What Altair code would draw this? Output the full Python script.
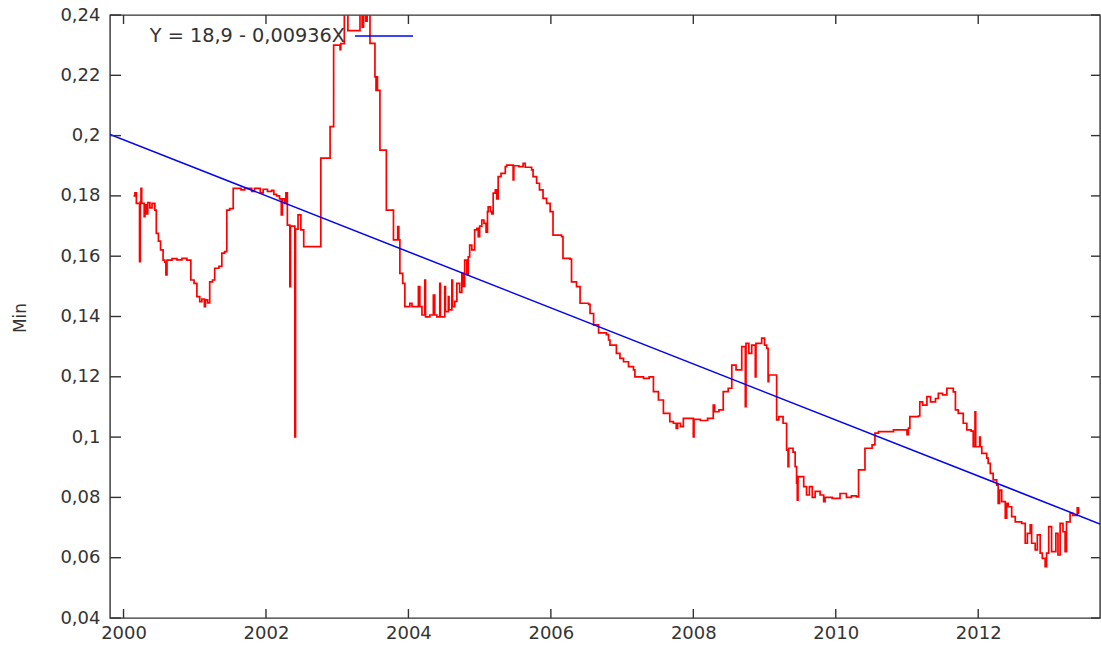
import altair as alt
import pandas as pd

# ---- data ----
years = [
    2000.14, 2000.16, 2000.18, 2000.225, 2000.235, 2000.245, 2000.255, 2000.29, 2000.30, 2000.32,
    2000.34, 2000.37, 2000.40, 2000.44, 2000.46, 2000.49, 2000.52, 2000.555, 2000.58, 2000.595,
    2000.61, 2000.68, 2000.75, 2000.82, 2000.89, 2000.945, 2000.99, 2001.03, 2001.07, 2001.10,
    2001.135, 2001.15, 2001.18, 2001.21, 2001.25, 2001.28, 2001.34, 2001.38, 2001.42, 2001.45,
    2001.49, 2001.54, 2001.65, 2001.70, 2001.80, 2001.84, 2001.92, 2001.96, 2002.02, 2002.08,
    2002.11, 2002.15, 2002.19, 2002.215, 2002.23, 2002.26, 2002.28, 2002.30, 2002.335, 2002.345,
    2002.405, 2002.415, 2002.45, 2002.49, 2002.53, 2002.77, 2002.90, 2002.95, 2003.04, 2003.05,
    2003.10, 2003.15, 2003.32, 2003.35, 2003.37, 2003.40, 2003.42, 2003.46, 2003.53, 2003.545,
    2003.555, 2003.565, 2003.60, 2003.69, 2003.79, 2003.85, 2003.865, 2003.88, 2003.92, 2003.95,
    2004.02, 2004.05, 2004.14, 2004.16, 2004.19, 2004.23, 2004.24, 2004.30, 2004.35, 2004.37,
    2004.40, 2004.44, 2004.45, 2004.51, 2004.52, 2004.56, 2004.57, 2004.61, 2004.62, 2004.65,
    2004.68, 2004.72, 2004.75, 2004.77, 2004.79, 2004.82, 2004.84, 2004.86, 2004.89, 2004.93,
    2004.96, 2004.98, 2005.00, 2005.03, 2005.06, 2005.09, 2005.11, 2005.12, 2005.15, 2005.17,
    2005.19, 2005.22, 2005.24, 2005.26, 2005.30, 2005.36, 2005.38, 2005.47, 2005.48, 2005.55,
    2005.61, 2005.64, 2005.73, 2005.75, 2005.80, 2005.84, 2005.89, 2005.94, 2005.99, 2006.03,
    2006.15, 2006.17, 2006.27, 2006.29, 2006.36, 2006.41, 2006.53, 2006.55, 2006.60, 2006.67,
    2006.78, 2006.81, 2006.83, 2006.92, 2006.97, 2007.02, 2007.09, 2007.16, 2007.18, 2007.30,
    2007.38, 2007.44, 2007.51, 2007.58, 2007.67, 2007.72, 2007.76, 2007.78, 2007.82, 2007.86,
    2008.00, 2008.01, 2008.10, 2008.20, 2008.28, 2008.30, 2008.36, 2008.42, 2008.49, 2008.54,
    2008.60, 2008.68, 2008.73, 2008.74, 2008.78, 2008.82, 2008.87, 2008.88, 2008.96, 2009.00,
    2009.03, 2009.05, 2009.06, 2009.17, 2009.20, 2009.26, 2009.31, 2009.33, 2009.34, 2009.40,
    2009.43, 2009.45, 2009.46, 2009.47, 2009.55, 2009.59, 2009.63, 2009.67, 2009.71, 2009.78,
    2009.83, 2009.85, 2009.95, 2010.06, 2010.15, 2010.22, 2010.29, 2010.32, 2010.41, 2010.51,
    2010.55, 2010.60, 2010.81, 2011.00, 2011.02, 2011.04, 2011.16, 2011.18, 2011.22, 2011.28,
    2011.33, 2011.40, 2011.44, 2011.50, 2011.56, 2011.65, 2011.68, 2011.72, 2011.79, 2011.84,
    2011.90, 2011.93, 2011.955, 2011.965, 2012.02, 2012.03, 2012.05, 2012.12, 2012.14, 2012.17,
    2012.21, 2012.26, 2012.28, 2012.30, 2012.33, 2012.38, 2012.40, 2012.42, 2012.47, 2012.52,
    2012.61, 2012.66, 2012.69, 2012.73, 2012.75, 2012.80, 2012.83, 2012.87, 2012.90, 2012.94,
    2012.96, 2012.99, 2013.03, 2013.09, 2013.12, 2013.15, 2013.19, 2013.22, 2013.24, 2013.29,
    2013.33, 2013.39, 2013.41,
]
mins = [
    0.1800, 0.1810, 0.1775, 0.1582, 0.1780, 0.1825, 0.1775, 0.1731, 0.1770, 0.1740,
    0.1778, 0.1760, 0.1775, 0.1753, 0.1676, 0.1650, 0.1621, 0.1587, 0.1580, 0.1538,
    0.1587, 0.1592, 0.1588, 0.1593, 0.1587, 0.1521, 0.1510, 0.1466, 0.1449, 0.1458,
    0.1433, 0.1455, 0.1445, 0.1515, 0.1521, 0.1560, 0.1566, 0.1610, 0.1615, 0.1753,
    0.1758, 0.1825, 0.1820, 0.1825, 0.1815, 0.1825, 0.1810, 0.1822, 0.1815, 0.1818,
    0.1805, 0.1800, 0.1790, 0.1737, 0.1790, 0.1775, 0.1810, 0.1703, 0.1499, 0.1700,
    0.1001, 0.1690, 0.1737, 0.1687, 0.1632, 0.1925, 0.2030, 0.2300, 0.2285, 0.2305,
    0.2450, 0.2348, 0.2450, 0.2360, 0.2450, 0.2380, 0.2450, 0.2306, 0.2195, 0.2150,
    0.2195, 0.2150, 0.1952, 0.1753, 0.1654, 0.1698, 0.1654, 0.1543, 0.1510, 0.1433,
    0.1444, 0.1433, 0.1499, 0.1433, 0.1405, 0.1521, 0.1399, 0.1405, 0.1471, 0.1405,
    0.1399, 0.1510, 0.1399, 0.1499, 0.1416, 0.1466, 0.1422, 0.1521, 0.1433, 0.1450,
    0.1510, 0.1480, 0.1543, 0.1500, 0.1587, 0.1540, 0.1598, 0.1637, 0.1621, 0.1687,
    0.1692, 0.1665, 0.1700, 0.1720, 0.1709, 0.1680, 0.1748, 0.1764, 0.1748, 0.1740,
    0.1809, 0.1820, 0.1790, 0.1864, 0.1875, 0.1897, 0.1902, 0.1853, 0.1900, 0.1897,
    0.1908, 0.1895, 0.1886, 0.1864, 0.1842, 0.1820, 0.1792, 0.1775, 0.1748, 0.1670,
    0.1665, 0.1593, 0.1590, 0.1515, 0.1499, 0.1444, 0.1440, 0.1410, 0.1372, 0.1346,
    0.1340, 0.1322, 0.1305, 0.1278, 0.1261, 0.1250, 0.1234, 0.1223, 0.1200, 0.1195,
    0.1200, 0.1151, 0.1123, 0.1079, 0.1051, 0.1046, 0.1029, 0.1046, 0.1035, 0.1062,
    0.1001, 0.1059, 0.1055, 0.1062, 0.1106, 0.1084, 0.1090, 0.1151, 0.1162, 0.1239,
    0.1223, 0.1300, 0.1101, 0.1311, 0.1278, 0.1305, 0.1200, 0.1311, 0.1328, 0.1305,
    0.1294, 0.1184, 0.1206, 0.1057, 0.1068, 0.1046, 0.0957, 0.0902, 0.0963, 0.0950,
    0.0902, 0.0847, 0.0791, 0.0869, 0.0836, 0.0808, 0.0836, 0.0800, 0.0820, 0.0808,
    0.0786, 0.0800, 0.0797, 0.0813, 0.0800, 0.0805, 0.0802, 0.0891, 0.0963, 0.0974,
    0.1013, 0.1018, 0.1024, 0.1008, 0.1030, 0.1068, 0.1070, 0.1117, 0.1106, 0.1134,
    0.1117, 0.1128, 0.1145, 0.1140, 0.1162, 0.1150, 0.1090, 0.1079, 0.1046, 0.1024,
    0.1020, 0.0968, 0.1084, 0.0968, 0.1000, 0.0968, 0.0946, 0.0930, 0.0913, 0.0880,
    0.0858, 0.0841, 0.0780, 0.0824, 0.0786, 0.0731, 0.0780, 0.0769, 0.0736, 0.0719,
    0.0714, 0.0648, 0.0681, 0.0709, 0.0648, 0.0626, 0.0676, 0.0615, 0.0598, 0.0570,
    0.0615, 0.0703, 0.0620, 0.0681, 0.0609, 0.0714, 0.0686, 0.0620, 0.0719, 0.0747,
    0.0740, 0.0765, 0.0745,
]

fit_years = [1999.81, 2013.71]
fit_values = [0.2004, 0.0712]
fit_label = "Y = 18,9 - 0,00936X"

x_ticks = [2000, 2002, 2004, 2006, 2008, 2010, 2012]
y_ticks = [0.04, 0.06, 0.08, 0.10, 0.12, 0.14, 0.16, 0.18, 0.20, 0.22, 0.24]
x_domain = [1999.81, 2013.71]
y_domain = [0.04, 0.24]

# ---- chart ----
W, H = 990, 603
FONT = "DejaVu Sans"
TXT = "#333333"
FS = 18

series = pd.DataFrame({"year": years, "min": mins})
fit = pd.DataFrame({"year": fit_years, "min": fit_values})
xt = pd.DataFrame({"year": x_ticks})
yt = pd.DataFrame({"min": y_ticks})
lab = pd.DataFrame({"t": [fit_label]})

xscale = alt.Scale(domain=x_domain, nice=False, zero=False)
yscale = alt.Scale(domain=y_domain, nice=False, zero=False)

xaxis = alt.Axis(values=x_ticks, format="d", ticks=False, domain=False, grid=False,
                 labelFont=FONT, labelFontSize=FS, labelColor=TXT, labelPadding=6,
                 labelFlush=False)
yaxis = alt.Axis(values=y_ticks, ticks=False, domain=False, grid=False,
                 labelExpr="replace(format(datum.value, '.2~f'), '.', ',')",
                 labelFont=FONT, labelFontSize=FS, labelColor=TXT, labelPadding=10,
                 titleFont=FONT, titleFontSize=17, titleFontWeight="normal", titleColor=TXT,
                 titleX=-90, titleY=H / 2 + 1, titleAngle=270, titleAlign="center",
                 titleBaseline="middle")


def X():
    return alt.X("year:Q", scale=xscale, axis=xaxis, title=None)


def Y():
    return alt.Y("min:Q", scale=yscale, axis=yaxis, title="Min")


red = alt.Chart(series).mark_line(color="#ff0000", strokeWidth=1.7,
                                   interpolate="step-after", clip=True).encode(x=X(), y=Y())
blue = alt.Chart(fit).mark_line(color="#0000ff", strokeWidth=1.5, clip=True).encode(x=X(), y=Y())

tick_color = "#333333"
xb = alt.Chart(xt).mark_rule(color=tick_color, strokeWidth=1.4).encode(
    x=X(), y=alt.value(H), y2=alt.value(H - 9))
xtop = alt.Chart(xt).mark_rule(color=tick_color, strokeWidth=1.4).encode(
    x=X(), y=alt.value(0), y2=alt.value(9))
yl = alt.Chart(yt).mark_rule(color=tick_color, strokeWidth=1.4).encode(
    y=Y(), x=alt.value(0), x2=alt.value(11))
yr = alt.Chart(yt).mark_rule(color=tick_color, strokeWidth=1.4).encode(
    y=Y(), x=alt.value(W), x2=alt.value(W - 9))

ltext = alt.Chart(lab).mark_text(align="right", baseline="middle", font=FONT,
                                 fontSize=19.3, color=TXT).encode(
    text="t:N", x=alt.value(235), y=alt.value(21))
lrule = alt.Chart(lab).mark_rule(color="#0000ff", strokeWidth=1.5).encode(
    x=alt.value(245), x2=alt.value(303), y=alt.value(21))

chart = alt.layer(red, blue, xb, xtop, yl, yr, ltext, lrule).properties(
    width=W, height=H,
    padding={"left": 110, "top": 15, "right": 1, "bottom": 32},
    autosize=alt.AutoSizeParams(type="none"),
    background="white",
).configure_view(stroke="#333333", strokeWidth=1.4)

chart.save("out.html", embed_options={"renderer": "svg", "actions": False})
